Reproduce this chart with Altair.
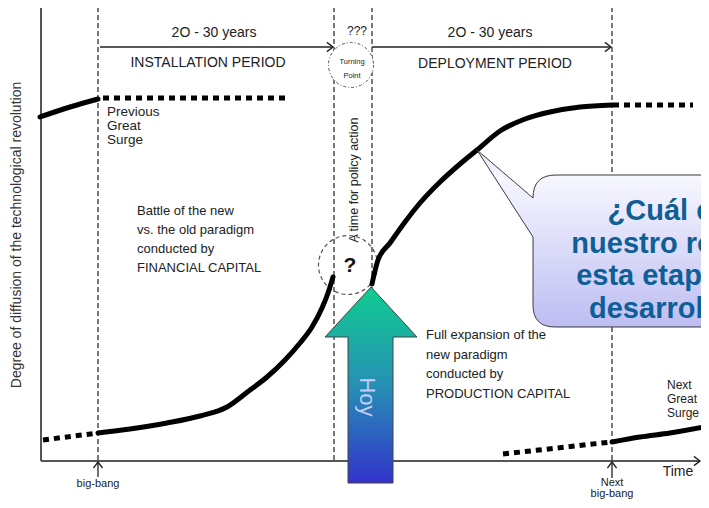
import altair as alt
import pandas as pd

# ---------------- values (picture units: time -> right, diffusion -> up) -------------
# previous great surge (mature end)
prev_t = [40, 70, 98]
prev_d = [117, 107, 99]
prev_dot_t = [103, 286]
prev_dot_d = [98, 98]
# new technological revolution: installation period
inst_dot_t = [43, 98]
inst_dot_d = [440, 433]
inst_t = [98, 130, 167, 200, 227, 250, 267, 285, 300, 312, 322, 328, 333]
inst_d = [433, 429, 423, 416, 407, 390, 377, 360, 343, 327, 308, 293, 277]
# deployment period
depl_t = [372, 378, 390, 405, 420, 440, 460, 477, 500, 525, 550, 580, 612]
depl_d = [284, 260, 243, 222, 203, 182, 164, 150, 131, 119, 112, 107, 105]
mat_dot_t = [613, 693]
mat_dot_d = [105, 105]
# next great surge
next_dot_t = [503, 611]
next_dot_d = [454, 442]
next_t = [612, 640, 670, 709]
next_d = [442, 437, 433, 426]

# phase boundaries (big-bang, turning point start/end, next big-bang)
bounds_t = [98, 334, 372, 612]
axis_t0, axis_t1 = 41, 700
axis_top, axis_base = 7, 461

# annotation texts
period_years = ["2O - 30 years", "2O - 30 years"]
period_years_t = [214, 490]
period_names = ["INSTALLATION PERIOD", "DEPLOYMENT PERIOD"]
period_names_t = [208, 495]
prev_lines = ["Previous", "Great", "Surge"]
next_lines = ["Next", "Great", "Surge"]
battle_lines = ["Battle of the new", "vs. the old paradigm", "conducted by", "FINANCIAL CAPITAL"]
full_lines = ["Full expansion of the", "new paradigm", "conducted by", "PRODUCTION  CAPITAL"]
bubble_lines = ["¿Cuál es", "nuestro rol en", "esta etapa de", "desarrollo?"]
y_title = "Degree of diffusion of the technological revolution"

FONT = "Liberation Sans"
INK = "#222222"

XS = alt.Scale(domain=[8, 701], nice=False, zero=False)
YS = alt.Scale(domain=[8, 500], reverse=True, nice=False, zero=False)


def X(f="x"):
    return alt.X(f"{f}:Q", scale=XS, axis=None)


def Y(f="y"):
    return alt.Y(f"{f}:Q", scale=YS, axis=None)


def curve(t, d, dotted=False):
    df = pd.DataFrame({"x": t, "y": d, "o": list(range(len(t)))})
    kw = dict(color="black", strokeWidth=5, strokeJoin="round", clip=True)
    if dotted:
        kw.update(strokeDash=[6, 5], strokeCap="butt")
    else:
        kw.update(strokeCap="round", interpolate="monotone")
    return alt.Chart(df).mark_line(**kw).encode(x=X(), y=Y(), order="o:Q")


def texts(xs, ys, labels, **kw):
    df = pd.DataFrame({"x": xs, "y": ys, "text": labels})
    base = dict(font=FONT, color=INK, fontSize=13, baseline="middle", align="center")
    base.update(kw)
    return alt.Chart(df).mark_text(**base).encode(x=X(), y=Y(), text="text:N")


# axes
vaxis = alt.Chart(pd.DataFrame({"x": [axis_t0], "y": [axis_top], "y2": [axis_base]})).mark_rule(
    color="#555", strokeWidth=2).encode(x=X(), y=Y(), y2="y2:Q")
haxis = alt.Chart(pd.DataFrame({"x": [axis_t0], "x2": [axis_t1], "y": [axis_base]})).mark_rule(
    color="#555", strokeWidth=2, clip=True).encode(x=X(), x2="x2:Q", y=Y())

# dashed phase boundaries
vlines = alt.Chart(pd.DataFrame({"x": bounds_t, "y": [axis_top] * 4, "y2": [axis_base] * 4})).mark_rule(
    color="#333", strokeWidth=1.3, strokeDash=[5, 3]).encode(x=X(), y=Y(), y2="y2:Q")

# period arrows and big-bang stems
hspans = alt.Chart(pd.DataFrame({"x": [100, 372], "x2": [332, 611], "y": [47, 47]})).mark_rule(
    color="#222", strokeWidth=1.5).encode(x=X(), x2="x2:Q", y=Y())
stems = alt.Chart(pd.DataFrame({"x": [98, 612], "y": [462, 462], "y2": [477, 478]})).mark_rule(
    color="#222", strokeWidth=1.3).encode(x=X(), y=Y(), y2="y2:Q")

RIGHT = "M-1,-0.75L0,0L-1,0.75"
UP = "M-0.75,1L0,0L0.75,1"
heads = alt.Chart(pd.DataFrame({
    "x": [333, 611, axis_t1, 98, 612],
    "y": [47, 47, 461, 462, 462],
    "shape": [RIGHT, RIGHT, RIGHT, UP, UP],
})).mark_point(filled=False, stroke="#222", strokeWidth=1.4, size=150, opacity=1).encode(
    x=X(), y=Y(), shape=alt.Shape("shape:N", scale=None))

# turning point circle and question circle
tp_circle = alt.Chart(pd.DataFrame({"x": [351], "y": [65]})).mark_point(
    shape="circle", size=45 * 45, filled=True, fill="white", stroke="#555", strokeWidth=1,
    strokeDash=[3, 2, 1, 2], opacity=1).encode(x=X(), y=Y())
q_circle = alt.Chart(pd.DataFrame({"x": [348], "y": [265]})).mark_point(
    shape="circle", size=59 * 59, filled=False, stroke="#555", strokeWidth=1.2,
    strokeDash=[4, 3], opacity=1).encode(x=X(), y=Y())

curves = [
    curve(prev_t, prev_d), curve(prev_dot_t, prev_dot_d, True),
    curve(inst_dot_t, inst_dot_d, True), curve(inst_t, inst_d),
    curve(depl_t, depl_d), curve(mat_dot_t, mat_dot_d, True),
    curve(next_dot_t, next_dot_d, True), curve(next_t, next_d),
]

labels = [
    texts(period_years_t, [33, 33], period_years, fontSize=14),
    texts(period_names_t, [63, 64], period_names, fontSize=14),
    texts([357], [31], ["???"], fontSize=12),
    texts([352, 352], [62, 76], ["Turning", "Point"], fontSize=7.5),
    texts([354], [180], ["A time for policy action"], fontSize=12.5, angle=270),
    texts([350], [266], ["?"], fontSize=21, fontWeight="bold", color="#111"),
    texts([107] * 3, [112, 126, 140], prev_lines, fontSize=13.5, align="left"),
    texts([667] * 3, [385, 399, 413], next_lines, fontSize=12, align="left"),
    texts([137] * 4, [211, 230, 249, 268], battle_lines, fontSize=13, align="left"),
    texts([426] * 4, [335, 354.5, 374, 393.5], full_lines, fontSize=13, align="left"),
    texts([98, 612, 612], [484, 483, 494], ["big-bang", "Next", "big-bang"], fontSize=11),
    texts([678], [472], ["Time"], fontSize=14),
    texts([17], [235], [y_title], fontSize=14, angle=270, color="#333"),
]

# call-out bubble
k = 150.0
cx, cy = 623, 238


def u(px, py):
    return f"{(px - cx) / k:.4f},{(py - cy) / k:.4f}"


BUBBLE = ("M" + u(477, 150) + "L" + u(533, 237) + "L" + u(533, 305) + "Q" + u(533, 327) + " " + u(555, 327)
          + "L" + u(790, 327) + "L" + u(790, 175) + "L" + u(556, 175) + "Q" + u(533, 175) + " " + u(533, 198)
          + "Z")
bubble = alt.Chart(pd.DataFrame({"x": [cx], "y": [cy]})).mark_point(
    shape=BUBBLE, size=(2 * k) ** 2, filled=True, opacity=1,
    fill=alt.LinearGradient(gradient="linear", x1=0, y1=0, x2=0, y2=1, stops=[
        alt.GradientStop(offset=0, color="#e6e6fb"),
        alt.GradientStop(offset=0.15, color="#f7f7ff"),
        alt.GradientStop(offset=1, color="#bdbdf3")]),
    stroke="#3a3a3a", strokeWidth=1).encode(x=X(), y=Y())
bubble_text = texts([668] * 4, [220, 252.5, 285, 317.5], bubble_lines, fontSize=29, fontWeight="bold",
                    color="#0e5f96", baseline="alphabetic")

# "Hoy" block arrow
ka = 100.0
ax, ay = 370, 385


def v(px, py):
    return f"{(px - ax) / ka:.4f},{(py - ay) / ka:.4f}"


ARROW = ("M" + v(371, 287) + "L" + v(417, 337) + "L" + v(393, 337) + "L" + v(393, 483) + "L" + v(348, 483)
         + "L" + v(348, 337) + "L" + v(325, 337) + "Z")
hoy = alt.Chart(pd.DataFrame({"x": [ax], "y": [ay]})).mark_point(
    shape=ARROW, size=(2 * ka) ** 2, filled=True, opacity=1,
    fill=alt.LinearGradient(gradient="linear", x1=0, y1=0, x2=0, y2=1, stops=[
        alt.GradientStop(offset=0, color="#10cc90"),
        alt.GradientStop(offset=0.5, color="#2690b4"),
        alt.GradientStop(offset=1, color="#3333cc")]),
    stroke="#444", strokeWidth=1).encode(x=X(), y=Y())
hoy_text = texts([367], [397], ["Hoy"], fontSize=22, angle=90, color="#c8ccff")

chart = alt.layer(
    vaxis, haxis, vlines, hspans, stems, heads, tp_circle, q_circle, *curves, *labels,
    bubble, bubble_text, hoy, hoy_text,
).properties(
    width=693, height=492, padding=0, autosize=alt.AutoSizeParams(type="none"),
    background="white",
).configure_view(stroke=None)

chart.save("out.html", embed_options={"renderer": "svg", "actions": False})
